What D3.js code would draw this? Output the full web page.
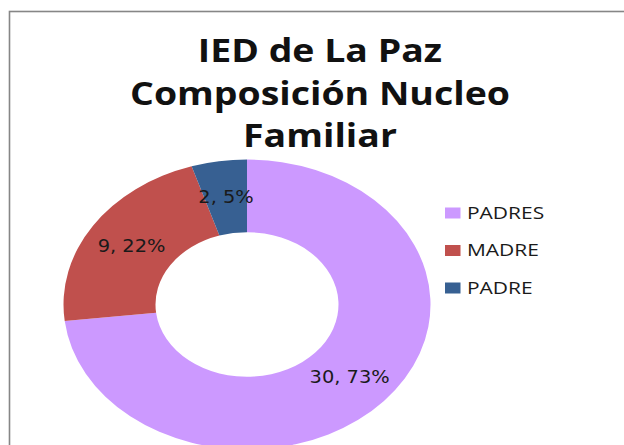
<!DOCTYPE html>
<html><head><meta charset="utf-8">
<script src="https://cdn.jsdelivr.net/npm/d3@7"></script>
<style>html,body{margin:0;padding:0;background:#fff;overflow:hidden}</style>
</head><body>
<svg id="c" width="624" height="445"></svg>
<script>
const titleLines = ["IED de La Paz", "Composición Nucleo", "Familiar"];
const categories = ["PADRES", "MADRE", "PADRE"];
const values = [30, 9, 2];
const percentLabels = ["73%", "22%", "5%"];
const colors = ["#CC99FF", "#C0504D", "#376092"];

const svg = d3.select("#c");
const W = 624, H = 445;
const yScale = 0.79;      // vertical squash of the donut

function stretchText(sel, f) {
  sel.each(function() {
    const n = this.getComputedTextLength();
    d3.select(this).attr("textLength", n * f).attr("lengthAdjust", "spacingAndGlyphs");
  });
}

svg.append("rect").attr("x", 9.5).attr("y", 11.5).attr("width", W).attr("height", H)
  .attr("fill", "#fff").attr("stroke", "#868686").attr("stroke-width", 1.6);

// title
const title = svg.append("g");
title.selectAll("text").data(titleLines).join("text")
  .attr("x", 320).attr("y", (d, i) => 62 + i * 42.5)
  .attr("text-anchor", "middle")
  .attr("font-family", "Open Sans").attr("font-weight", 700).attr("font-size", 32)
  .attr("fill", "#111")
  .text(d => d)
  .call(stretchText, 1.17);

// donut
const cx = 247, cy = 304.5, R = 183.5, r = 91.5;
const pie = d3.pie().sort(null).value(d => d)(values);
const arc = d3.arc().innerRadius(r).outerRadius(R);
const labelArc = d3.arc().innerRadius((R + r) / 2).outerRadius((R + r) / 2);
const g = svg.append("g").attr("transform", `translate(${cx},${cy})`);
g.append("g").attr("transform", `scale(1,${yScale})`)
  .selectAll("path").data(pie).join("path")
  .attr("d", arc).attr("fill", (d, i) => colors[i]);

g.selectAll("text.lbl").data(pie).join("text").attr("class", "lbl")
  .attr("x", d => labelArc.centroid(d)[0])
  .attr("y", d => labelArc.centroid(d)[1] * yScale)
  .attr("dy", "0.36em")
  .attr("text-anchor", "middle")
  .attr("font-family", "DejaVu Sans").attr("font-size", 17)
  .attr("fill", "#1a1a1a")
  .text((d, i) => `${values[i]}, ${percentLabels[i]}`)
  .call(stretchText, 1.14);

// legend
const lg = svg.append("g").attr("transform", "translate(445,213)");
const rows = lg.selectAll("g").data(categories).join("g")
  .attr("transform", (d, i) => `translate(0,${i * 37.5})`);
rows.append("rect").attr("x", 0).attr("y", -5.5).attr("width", 15.5).attr("height", 11)
  .attr("fill", (d, i) => colors[i]);
rows.append("text").attr("x", 22).attr("y", 0).attr("dy", "0.36em")
  .attr("font-family", "Open Sans").attr("font-size", 16.5).attr("fill", "#1a1a1a")
  .text(d => d)
  .call(stretchText, 1.27);
</script>
</body></html>
